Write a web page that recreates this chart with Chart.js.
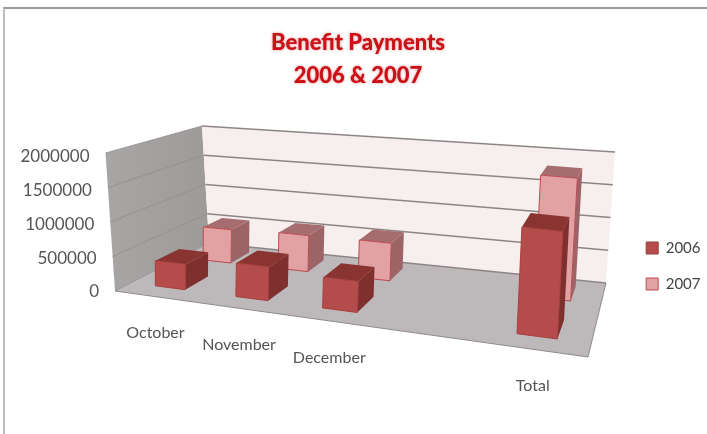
<!DOCTYPE html>
<html>
<head>
<meta charset="utf-8">
<script src="https://cdn.jsdelivr.net/npm/chart.js@4"></script>
<style>
html,body{margin:0;padding:0;background:#fff;overflow:hidden}
#wrap{position:absolute;left:0;top:0;width:707px;height:434px}
#frame{position:absolute;left:3px;top:7px;width:704px;height:427px;border-left:2px solid #bdbdbd;border-top:2px solid #9a9a9a;box-sizing:border-box}
canvas{position:absolute;left:0;top:0;filter:blur(0.55px)}
</style>
</head>
<body>
<div id="wrap"><div id="frame"></div><canvas id="c" width="707" height="434"></canvas></div>
<script>
const categories = ['October', 'November', 'December', '', 'Total'];
const seriesNames = ['2006', '2007'];
const values2006 = [370000, 480000, 430000, null, 1430000];
const values2007 = [530000, 560000, 570000, null, 1785000];
const titleLines = ['Benefit Payments', '2006 & 2007'];

// 3D box of the plot, as screen corners of the floor and the ceiling: [front-left, front-right, back-right, back-left]
const floorQuad = [[115, 291], [588, 357], [606, 283], [209, 243]];
const ceilQuad = [[105.5, 153], [600, 202], [615, 152], [202, 126]];
const rowDepth = [[0.15, 0.39], [0.66, 0.89]];
const warpAmount = 0.08;
const barLean = 8;
const looks = [
  {front: '#b34c4a', side: '#7f302e', top: '#8a3432', edge: '#a8403e'},
  {front: '#e2a1a3', side: '#9c6466', top: '#a56d6f', edge: '#bb4a50'}
];

function quadMap(q) {
  const [p0, p1, p2, p3] = q;
  const sx = p0[0] - p1[0] + p2[0] - p3[0], sy = p0[1] - p1[1] + p2[1] - p3[1];
  const dx1 = p1[0] - p2[0], dx2 = p3[0] - p2[0], dy1 = p1[1] - p2[1], dy2 = p3[1] - p2[1];
  const det = dx1 * dy2 - dx2 * dy1;
  const g = (sx * dy2 - dx2 * sy) / det, h = (dx1 * sy - sx * dy1) / det;
  const a = p1[0] - p0[0] + g * p1[0], b = p3[0] - p0[0] + h * p3[0];
  const d = p1[1] - p0[1] + g * p1[1], e = p3[1] - p0[1] + h * p3[1];
  return (u, t) => {
    const w = 1 + g * u + h * t;
    return [(a * u + b * t + p0[0]) / w, (d * u + e * t + p0[1]) / w];
  };
}
const onFloor = quadMap(floorQuad), onCeil = quadMap(ceilQuad);
function project(u0, d, v) {
  const u = u0 + warpAmount * u0 * (1 - u0);
  const f = onFloor(u, d), c = onCeil(u, d);
  return [f[0] + (c[0] - f[0]) * v, f[1] + (c[1] - f[1]) * v];
}
function barPoint(u, d, v) {
  const base = project(u, d, 0), full = project(u, d, v);
  return [base[0] + barLean * u * v, full[1]];
}
function poly(ctx, pts, fill, stroke, lw) {
  ctx.beginPath();
  pts.forEach((p, i) => i ? ctx.lineTo(p[0], p[1]) : ctx.moveTo(p[0], p[1]));
  ctx.closePath();
  if (fill) { ctx.fillStyle = fill; ctx.fill(); }
  if (stroke) { ctx.strokeStyle = stroke; ctx.lineWidth = lw || 1; ctx.stroke(); }
}

const box3d = {
  id: 'box3d',
  afterInit(chart) {
    const t = chart.titleBlock, draw = t.draw.bind(t);
    t.draw = function (a) {
      const ctx = chart.ctx;
      ctx.save();
      ctx.shadowColor = 'rgba(200,50,50,0.55)';
      ctx.shadowBlur = 3;
      draw(a);
      ctx.restore();
    };
  },
  afterLayout(chart) {
    const lg = chart.legend;
    lg.left += 3.5; lg.right += 3.5;
    lg.top += 49; lg.bottom += 49;
  },
  beforeDraw(chart) {
    const ya = chart.scales.y, xa = chart.scales.x, area = chart.chartArea;
    ya.getLabelItems(area).forEach((it, i) => {
      const tick = ya.ticks[i];
      if (!tick) return;
      const v = (tick.value - ya.min) / (ya.max - ya.min);
      it.options.translation[0] = project(0, 0, v)[0] - 16;
      it.options.translation[1] = ya.getPixelForValue(tick.value) + 1;
    });
    xa.getLabelItems(area).forEach((it) => {
      const px = it.options.translation[0];
      if (it._u === undefined) it._u = (px - area.left) / area.width;
      const p = project(it._u, 0, 0);
      it.options.translation[0] = p[0] + 1;
      it.options.translation[1] = p[1] + 27;
    });
  },
  beforeDatasetsDraw(chart) {
    const ctx = chart.ctx, ya = chart.scales.y, area = chart.chartArea;
    const toV = val => (val - ya.min) / (ya.max - ya.min);
    ctx.save();
    // left wall
    const lw = ctx.createLinearGradient(105, 0, 209, 0);
    lw.addColorStop(0, '#a8a5a5'); lw.addColorStop(1, '#9e9a9a');
    poly(ctx, [project(0, 0, 0), project(0, 1, 0), project(0, 1, 1), project(0, 0, 1)], lw);
    // back wall
    poly(ctx, [project(0, 1, 0), project(1, 1, 0), project(1, 1, 1), project(0, 1, 1)], '#f7eeee');
    // floor
    poly(ctx, [project(0, 0, 0), project(1, 0, 0), project(1, 1, 0), project(0, 1, 0)], '#bdb8ba');
    // grid
    ya.ticks.forEach(t => {
      const v = toV(t.value);
      ctx.beginPath();
      const a = project(0, 0, v), b = project(0, 1, v), c = project(1, 1, v);
      ctx.moveTo(a[0], a[1]); ctx.lineTo(b[0], b[1]);
      ctx.strokeStyle = '#918d8d'; ctx.lineWidth = 0.8; ctx.stroke();
      ctx.beginPath();
      ctx.moveTo(b[0], b[1]); ctx.lineTo(c[0], c[1]);
      ctx.strokeStyle = '#8d8585'; ctx.lineWidth = 1.3; ctx.stroke();
    });
    // floor front edge
    ctx.beginPath();
    let a = project(0, 0, 0), b = project(1, 0, 0), c = project(1, 1, 0);
    ctx.moveTo(a[0], a[1]); ctx.lineTo(b[0], b[1]); ctx.lineTo(c[0], c[1]);
    ctx.strokeStyle = '#8f8b8d'; ctx.lineWidth = 1; ctx.stroke();

    // bars: back row first
    for (let s = chart.data.datasets.length - 1; s >= 0; s--) {
      const meta = chart.getDatasetMeta(s), look = looks[s], [d0, d1] = rowDepth[s];
      meta.data.forEach((el, i) => {
        const val = chart.data.datasets[s].data[i];
        if (val === null) return;
        const {x, width} = el.getProps(['x', 'width'], true);
        const u0 = (x - width / 2 - area.left) / area.width, u1 = (x + width / 2 - area.left) / area.width;
        const v = toV(val);
        poly(ctx, [barPoint(u1, d0, 0), barPoint(u1, d1, 0), barPoint(u1, d1, v), barPoint(u1, d0, v)], look.side);
        poly(ctx, [barPoint(u0, d0, v), barPoint(u1, d0, v), barPoint(u1, d1, v), barPoint(u0, d1, v)], look.top);
        poly(ctx, [barPoint(u0, d0, 0), barPoint(u1, d0, 0), barPoint(u1, d0, v), barPoint(u0, d0, v)], look.front, look.edge, 1);
      });
    }
    ctx.restore();
  },
  beforeDatasetDraw() { return false; }
};

new Chart(document.getElementById('c'), {
  type: 'bar',
  data: {
    labels: categories,
    datasets: [
      {label: seriesNames[0], data: values2006, backgroundColor: looks[0].front, borderColor: '#9c3c3a', borderWidth: 1},
      {label: seriesNames[1], data: values2007, backgroundColor: looks[1].front, borderColor: '#bb4a50', borderWidth: 1}
    ]
  },
  options: {
    responsive: false,
    animation: false,
    events: [],
    layout: {padding: {left: 9, right: 0, top: 0, bottom: 0}},
    datasets: {bar: {grouped: false, categoryPercentage: 1, barPercentage: 0.38}},
    scales: {
      x: {
        grid: {display: false}, border: {display: false},
        ticks: {color: '#555', font: {family: 'Lato', size: 16}, maxRotation: 0, autoSkip: false, padding: 0},
        afterFit(s) { s.height = 143; }
      },
      y: {
        min: 0, max: 2000000,
        grid: {display: false}, border: {display: false},
        ticks: {stepSize: 500000, color: '#555', font: {family: 'Lato', size: 17}, callback: v => String(v)},
        afterFit(s) { s.width = 95; }
      }
    },
    plugins: {
      title: {
        display: true, text: titleLines, color: '#cc1018',
        font: {family: 'Lato', size: 22, weight: '900', lineHeight: 1.5},
        padding: {top: 26, bottom: 64}
      },
      legend: {
        display: true, position: 'right',
        labels: {boxWidth: 12, boxHeight: 12, padding: 21, color: '#444', font: {family: 'Lato', size: 15}}
      },
      tooltip: {enabled: false}
    }
  },
  plugins: [box3d]
});
</script>
</body>
</html>
